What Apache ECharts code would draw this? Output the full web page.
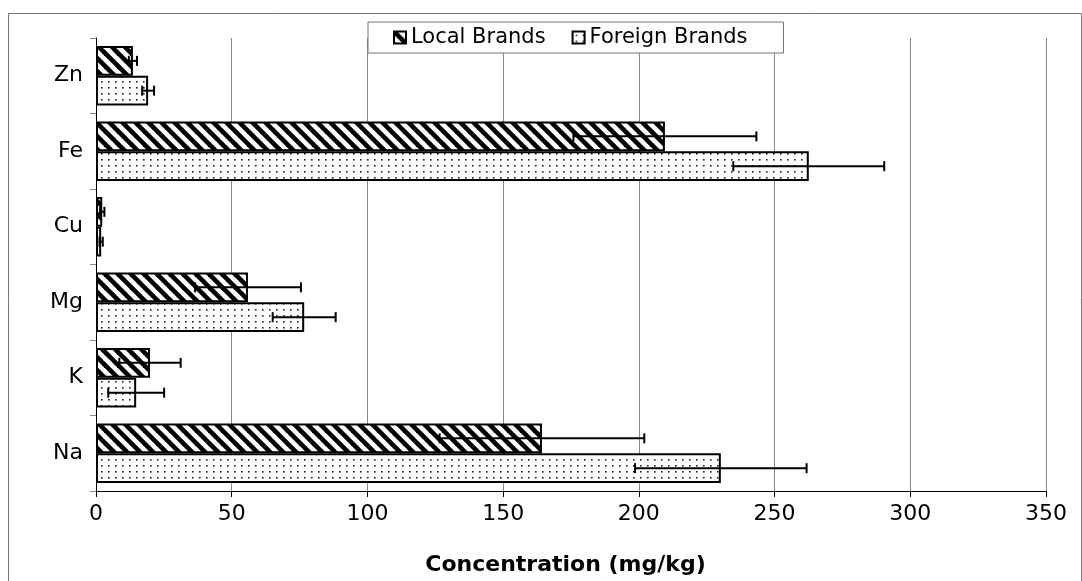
<!DOCTYPE html>
<html>
<head>
<meta charset="utf-8">
<script src="https://cdn.jsdelivr.net/npm/echarts@6/dist/echarts.min.js"></script>
<style>
html,body{margin:0;padding:0;background:#fff;}
#chart{width:1082px;height:581px;}
</style>
</head>
<body>
<div id="chart"></div>
<script>
const categories = ['Na', 'K', 'Mg', 'Cu', 'Fe', 'Zn'];
const localValues = [164.3, 19.9, 56, 2.3, 209.6, 13.6];
const localErrors = [37.7, 11.3, 19.5, 0.8, 33.7, 1.5];
const foreignValues = [230.2, 14.8, 76.7, 1.9, 262.6, 19.2];
const foreignErrors = [31.6, 10.3, 11.6, 0.6, 27.8, 2.2];
const xTicks = [0, 50, 100, 150, 200, 250, 300, 350];

function hatchPattern() {
  const s = 13;
  const c = document.createElement('canvas');
  c.width = s; c.height = s;
  const g = c.getContext('2d');
  g.fillStyle = '#fff';
  g.fillRect(0, 0, s, s);
  g.strokeStyle = '#000';
  g.lineWidth = 4.6;
  for (let k = -1; k <= 1; k++) {
    g.beginPath();
    g.moveTo(k * s - 2, -2);
    g.lineTo(k * s + s + 2, s + 2);
    g.stroke();
  }
  return c;
}
function dotPattern() {
  const c = document.createElement('canvas');
  c.width = 7; c.height = 6;
  const g = c.getContext('2d');
  g.fillStyle = '#fff';
  g.fillRect(0, 0, 7, 6);
  g.fillStyle = '#222';
  g.fillRect(3, 3, 1.6, 1.6);
  return c;
}

const BAR_CAT_GAP = 0.21;
const font = 'DejaVu Sans, Liberation Sans, Arial, sans-serif';

function errorItem(isLocal) {
  return function (params, api) {
    const cat = api.value(0);
    const val = api.value(1);
    const err = api.value(2);
    const center = api.coord([0, cat]);
    const band = api.size([0, 1])[1];
    const bw = band * (1 - BAR_CAT_GAP) / 2;
    const cy = center[1] + (isLocal ? -bw / 2 : bw / 2);
    const x1 = api.coord([val - err, cat])[0];
    const x2 = api.coord([val + err, cat])[0];
    const cap = 5;
    const style = { stroke: '#000', lineWidth: 2 };
    return {
      type: 'group',
      children: [
        { type: 'line', shape: { x1: x1, y1: cy, x2: x2, y2: cy }, style: style },
        { type: 'line', shape: { x1: x1, y1: cy - cap, x2: x1, y2: cy + cap }, style: style },
        { type: 'line', shape: { x1: x2, y1: cy - cap, x2: x2, y2: cy + cap }, style: style }
      ]
    };
  };
}

const chart = echarts.init(document.getElementById('chart'), null, { renderer: 'canvas' });
const hatch = { image: hatchPattern(), repeat: 'repeat' };
const dots = { image: dotPattern(), repeat: 'repeat' };

chart.setOption({
  animation: false,
  backgroundColor: '#fff',
  textStyle: { fontFamily: font },
  graphic: [
    { type: 'polyline', shape: { points: [[8.5, 590], [8.5, 13.5], [1081.5, 13.5], [1081.5, 590]] },
      style: { stroke: '#777', lineWidth: 1, fill: null }, z: -10, silent: true }
  ],
  legend: {
    top: 22,
    left: 368,
    data: ['Local Brands', 'Foreign Brands'],
    icon: 'rect',
    backgroundColor: '#fff',
    borderColor: '#777',
    borderWidth: 1,
    padding: [5, 36, 5, 25],
    itemGap: 26,
    itemWidth: 12,
    itemHeight: 12,
    itemStyle: { borderColor: '#000', borderWidth: 2 },
    textStyle: { fontSize: 21, color: '#000', fontFamily: font },
    z: 20
  },
  grid: { left: 96, right: 36, top: 38, bottom: 88, containLabel: false },
  xAxis: {
    type: 'value',
    min: 0, max: 350, interval: 50,
    name: 'Concentration (mg/kg)',
    nameLocation: 'middle',
    nameGap: 63,
    nameTextStyle: { fontSize: 22, fontWeight: 'bold', color: '#000', fontFamily: font, padding: [0, 11, 0, 0] },
    axisLine: { show: true, lineStyle: { color: '#000', width: 1 } },
    axisTick: { show: true, length: 6, lineStyle: { color: '#000' } },
    axisLabel: { fontSize: 22, color: '#000', margin: 12, fontFamily: font,
      formatter: function (v) { return xTicks.indexOf(v) >= 0 ? String(v) : ''; } },
    splitLine: { show: true, lineStyle: { color: '#888', width: 1 } }
  },
  yAxis: {
    type: 'category',
    data: categories,
    axisLine: { show: true, lineStyle: { color: '#000', width: 1 } },
    axisTick: { show: true, length: 6, lineStyle: { color: '#888' } },
    axisLabel: { fontSize: 22, color: '#000', margin: 13, fontFamily: font },
    splitLine: { show: false }
  },
  series: [
    {
      name: 'Local Brands', type: 'bar', data: localValues,
      barGap: '0%', barCategoryGap: (BAR_CAT_GAP * 100) + '%',
      itemStyle: { color: hatch, borderColor: '#000', borderWidth: 2 }
    },
    {
      name: 'Foreign Brands', type: 'bar', data: foreignValues,
      barGap: '0%', barCategoryGap: (BAR_CAT_GAP * 100) + '%',
      itemStyle: { color: dots, borderColor: '#000', borderWidth: 2 }
    },
    {
      name: 'localErr', type: 'custom', z: 10,
      renderItem: errorItem(true),
      encode: { x: 1, y: 0 },
      data: categories.map((c, i) => [i, localValues[i], localErrors[i]])
    },
    {
      name: 'foreignErr', type: 'custom', z: 10,
      renderItem: errorItem(false),
      encode: { x: 1, y: 0 },
      data: categories.map((c, i) => [i, foreignValues[i], foreignErrors[i]])
    }
  ]
});
</script>
</body>
</html>
